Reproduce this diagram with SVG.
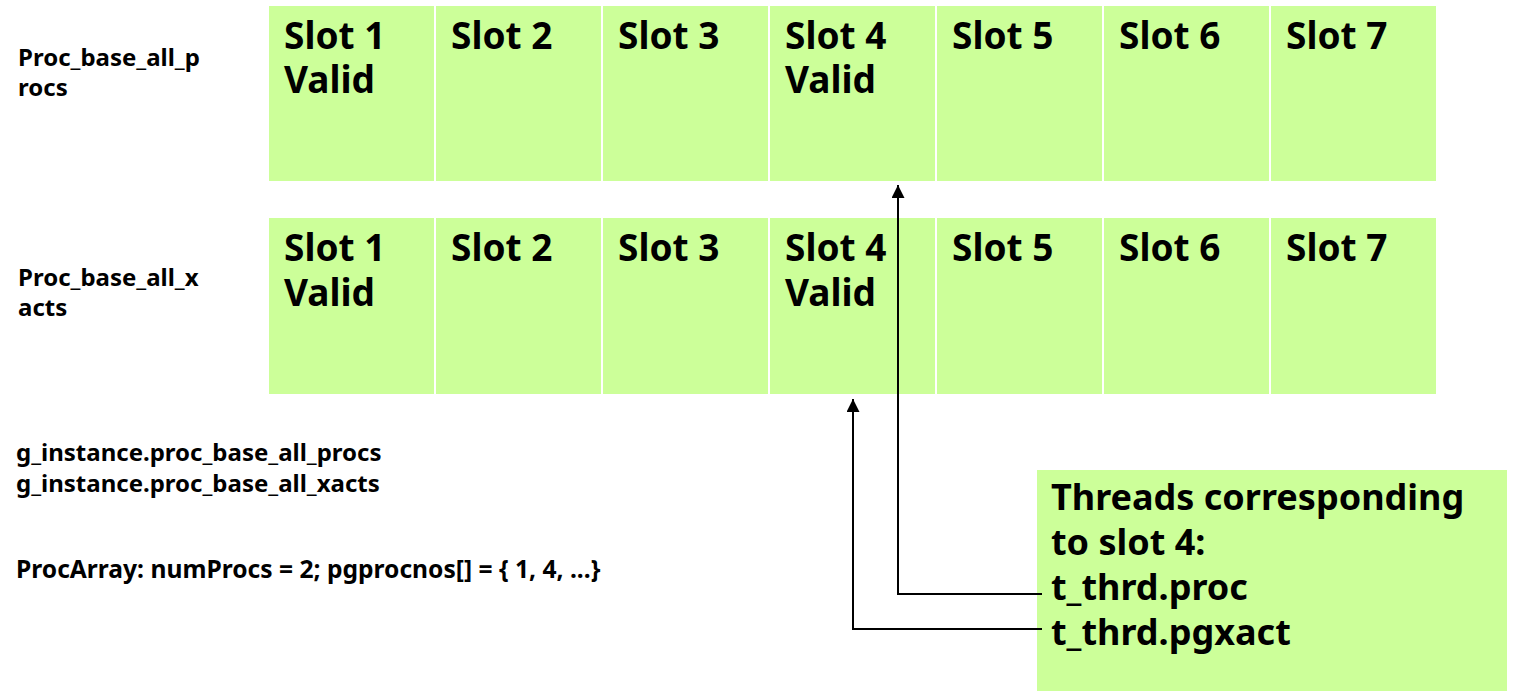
<svg xmlns="http://www.w3.org/2000/svg" width="1513" height="699" viewBox="0 0 1513 699">
<defs>
<style>
.cell{fill:#ccff99}
.slot{font-family:"Noto Sans","Open Sans",sans-serif;font-weight:bold;font-size:37px;fill:#000}
.lbl{font-family:"Noto Sans","Open Sans",sans-serif;font-weight:bold;font-size:24px;fill:#000}
.box{font-family:"Noto Sans","Open Sans",sans-serif;font-weight:bold;font-size:36px;fill:#000}
.conn{fill:none;stroke:#000;stroke-width:2}
</style>
<marker id="ah" viewBox="0 0 10 10" refX="10" refY="5" markerWidth="6.5" markerHeight="6.5" orient="auto" markerUnits="strokeWidth">
<path d="M0,0 L10,5 L0,10 z" fill="#000"/>
</marker>
</defs>
<rect width="1513" height="699" fill="#fff"/>
<g id="row-procs">
<rect class="cell" x="269" y="6" width="165" height="175"/>
<rect class="cell" x="436" y="6" width="165" height="175"/>
<rect class="cell" x="603" y="6" width="165" height="175"/>
<rect class="cell" x="770" y="6" width="165" height="175"/>
<rect class="cell" x="937" y="6" width="165" height="175"/>
<rect class="cell" x="1104" y="6" width="165" height="175"/>
<rect class="cell" x="1271" y="6" width="165" height="175"/>
<text class="slot" x="284" y="49">Slot 1<tspan x="284" dy="44">Valid</tspan></text>
<text class="slot" x="451" y="49">Slot 2</text>
<text class="slot" x="618" y="49">Slot 3</text>
<text class="slot" x="785" y="49">Slot 4<tspan x="785" dy="44">Valid</tspan></text>
<text class="slot" x="952" y="49">Slot 5</text>
<text class="slot" x="1119" y="49">Slot 6</text>
<text class="slot" x="1286" y="49">Slot 7</text>
</g>
<g id="row-xacts">
<rect class="cell" x="269" y="218" width="165" height="176"/>
<rect class="cell" x="436" y="218" width="165" height="176"/>
<rect class="cell" x="603" y="218" width="165" height="176"/>
<rect class="cell" x="770" y="218" width="165" height="176"/>
<rect class="cell" x="937" y="218" width="165" height="176"/>
<rect class="cell" x="1104" y="218" width="165" height="176"/>
<rect class="cell" x="1271" y="218" width="165" height="176"/>
<text class="slot" x="284" y="261">Slot 1<tspan x="284" dy="45">Valid</tspan></text>
<text class="slot" x="451" y="261">Slot 2</text>
<text class="slot" x="618" y="261">Slot 3</text>
<text class="slot" x="785" y="261">Slot 4<tspan x="785" dy="45">Valid</tspan></text>
<text class="slot" x="952" y="261">Slot 5</text>
<text class="slot" x="1119" y="261">Slot 6</text>
<text class="slot" x="1286" y="261">Slot 7</text>
</g>
<g id="label-procs">
<text class="lbl" x="18" y="66">Proc_base_all_p<tspan x="18" dy="30">rocs</tspan></text>
</g>
<g id="label-xacts">
<text class="lbl" x="18" y="286">Proc_base_all_x<tspan x="18" dy="30">acts</tspan></text>
</g>
<g id="label-instance">
<text class="lbl" x="16" y="461">g_instance.proc_base_all_procs<tspan x="16" dy="31">g_instance.proc_base_all_xacts</tspan></text>
</g>
<g id="label-procarray">
<text class="lbl" x="16" y="578" style="font-size:24.6px">ProcArray: numProcs = 2; pgprocnos[] = { 1, 4, ...}</text>
</g>
<g id="threads-box">
<rect class="cell" x="1037" y="470" width="470" height="221"/>
<text class="box" x="1051" y="510">Threads corresponding<tspan x="1051" dy="45">to slot 4:</tspan><tspan x="1051" dy="45">t_thrd.proc</tspan><tspan x="1051" dy="45">t_thrd.pgxact</tspan></text>
</g>
<g id="connectors">
<path class="conn" d="M1042,594 H898 V185" marker-end="url(#ah)"/>
<path class="conn" d="M1042,629 H853 V399" marker-end="url(#ah)"/>
</g>
</svg>
